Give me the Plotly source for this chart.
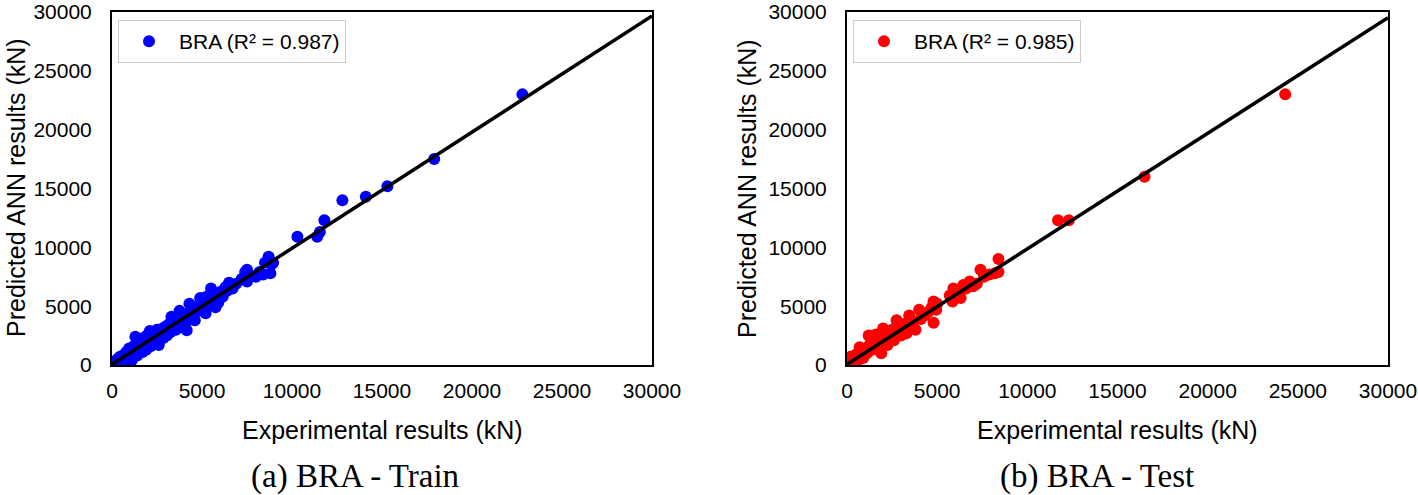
import plotly.graph_objects as go

# Train set (experimental, predicted) in kN
train_exp = [150, 250, 300, 400, 450, 500, 600, 650, 700, 800, 850, 900, 950, 1000, 1050, 1100,
             1150, 1200, 1250, 1300, 1350, 1400, 1450, 1500, 1550, 1600, 1650, 1700, 1750, 1800,
             1850, 1900, 1950, 2000, 2050, 2100, 2150, 2200, 2250, 2300, 2350, 2400, 2500, 2550,
             2600, 2650, 2700, 2800, 2850, 2900,
             3000, 3050, 3100, 3200, 3250, 3300, 3400, 3500, 3550, 3650, 3750, 3800, 3900, 4000,
             4100, 4150, 4250, 4300, 4350, 4450, 4600, 4650, 4800, 4900, 5000, 5100, 5200, 5250,
             5400, 5500, 5600, 5750, 5800, 5900, 6000, 6150, 6300, 6400,
             6500, 6700, 6900, 7200, 7400, 7500, 7500, 7700, 8000, 8200, 8400, 8500, 8700, 8800,
             8900, 8950,
             10300, 11400, 11550, 11800, 12800, 14100, 15300, 17900, 22800]
train_pred = [300, 100, 500, 250, 700, 400, 800, 300, 600, 1100, 500, 900, 1400, 700, 1200, 400,
              900, 1600, 1000, 2400, 1300, 800, 1700, 1200, 2100, 1500, 1900, 1100, 2300, 1600,
              2000, 1300, 2500, 1800, 2200, 2900, 1600, 2400, 2000, 2700, 1900, 2500, 3000, 2200,
              1700, 2700, 2400, 3100, 2300, 2800,
              3300, 2500, 2900, 3500, 2800, 4100, 3200, 3800, 3000, 3500, 4600, 3300, 4000, 3600,
              4300, 2950, 3800, 5200, 4600, 4100, 3800, 4500, 5000, 5700, 4700, 5300, 4400, 5800,
              5100, 6500, 5500, 4900, 5900, 5300, 6200, 5800, 6600, 6300,
              7000, 6500, 6900, 7300, 7900, 8100, 7100, 7600, 7500, 7900, 7700, 8700, 9200, 7800,
              8600, 8700,
              10900, 10900, 11300, 12300, 14000, 14300, 15200, 17500, 23000]

# Test set (experimental, predicted) in kN
test_exp = [100, 200, 300, 400, 500, 600, 700, 750, 850, 900, 1000, 1100, 1200, 1250, 1350, 1400,
            1500, 1600, 1700, 1800, 1900, 2000, 2050, 2150, 2250, 2400, 2500, 2600, 2750, 2800,
            2900, 3000, 3200, 3300, 3450, 3500, 3700, 3800, 4000, 4100, 4300, 4500, 4700, 4800,
            4800, 4950, 5000, 5700, 5850, 5900, 6000, 6100, 6300, 6450, 6600, 6800, 7000, 7200,
            7400, 7600, 7900, 8200, 8400, 8400,
            11700, 12300, 16500, 24300]
test_pred = [300, 700, 200, 500, 900, 400, 1500, 800, 1200, 600, 1400, 1000, 2500, 1700, 2200, 1300,
             1900, 2600, 1500, 2300, 1000, 3100, 2000, 2700, 1700, 2400, 3000, 2100, 3800, 2700,
             3200, 2500, 3500, 2700, 4200, 3300, 3700, 3000, 4700, 3900, 4200, 4500, 4900, 5400,
             3600, 4700, 5200, 5900, 5400, 6500, 5700, 6000, 5700, 6800, 6500, 7100, 6700, 6900,
             8100, 7500, 7700, 7800, 9000, 7900,
             12300, 12300, 16000, 23000]

# regression lines (slope, intercept)
train_fit = (0.987, 50)
test_fit = (0.982, 50)
line_x = [0, 30000]

ticks = [0, 5000, 10000, 15000, 20000, 25000, 30000]

W, H = 1418, 495


def px(x):
    return x / W


def py(y):
    return 1 - y / H


font = "Liberation Sans, Arial, sans-serif"
serif = "Liberation Serif, Times New Roman, serif"

fig = go.Figure()

fig.add_trace(go.Scatter(x=train_exp, y=train_pred, mode="markers", name="BRA (R² = 0.987)",
                         marker=dict(color="#0000ff", size=12), xaxis="x", yaxis="y", legend="legend"))
fig.add_trace(go.Scatter(x=line_x, y=[train_fit[0] * v + train_fit[1] for v in line_x], mode="lines",
                         line=dict(color="black", width=3.5), showlegend=False, xaxis="x", yaxis="y"))

fig.add_trace(go.Scatter(x=test_exp, y=test_pred, mode="markers", name="BRA (R² = 0.985)",
                         marker=dict(color="#ff0000", size=12), xaxis="x2", yaxis="y2", legend="legend2"))
fig.add_trace(go.Scatter(x=line_x, y=[test_fit[0] * v + test_fit[1] for v in line_x], mode="lines",
                         line=dict(color="black", width=3.5), showlegend=False, xaxis="x2", yaxis="y2"))

ax = dict(range=[0, 30000], tickvals=ticks, ticktext=[str(t) for t in ticks],
          showgrid=False, zeroline=False, showline=True, automargin=False,
          mirror=True, linecolor="black", linewidth=2, ticks="", ticklabeloverflow="allow",
          tickfont=dict(family=font, size=21, color="black"))

ydom = [py(365), py(12)]
leg = dict(xanchor="left", yanchor="top", bgcolor="white",
           bordercolor="#cccccc", borderwidth=1, itemwidth=50,
           font=dict(family=font, size=21, color="black"))
fig.update_layout(
    width=W, height=H, margin=dict(l=0, r=0, t=0, b=0, autoexpand=False),
    plot_bgcolor="white", paper_bgcolor="white",
    xaxis=dict(ax, domain=[px(112), px(652)], anchor="y", ticklabelstandoff=6),
    yaxis=dict(ax, domain=ydom, anchor="x", ticklabelstandoff=14),
    xaxis2=dict(ax, domain=[px(847), px(1388)], anchor="y2", ticklabelstandoff=6),
    yaxis2=dict(ax, domain=ydom, anchor="x2", ticklabelstandoff=14),
    legend=dict(leg, x=px(118), y=py(20)),
    legend2=dict(leg, x=px(853), y=py(20)),
)

annots = [
    dict(x=px(382), y=py(430), text="Experimental results (kN)", textangle=0,
         font=dict(family=font, size=25, color="black")),
    dict(x=px(1117), y=py(430), text="Experimental results (kN)", textangle=0,
         font=dict(family=font, size=25, color="black")),
    dict(x=px(16), y=py(188), text="Predicted ANN results (kN)", textangle=-90,
         font=dict(family=font, size=25, color="black")),
    dict(x=px(747), y=py(188), text="Predicted ANN results (kN)", textangle=-90,
         font=dict(family=font, size=25, color="black")),
    dict(x=px(355), y=py(476), text="(a) BRA - Train", textangle=0,
         font=dict(family=serif, size=33, color="black")),
    dict(x=px(1097), y=py(476), text="(b) BRA - Test", textangle=0,
         font=dict(family=serif, size=33, color="black")),
]
for a in annots:
    fig.add_annotation(xref="paper", yref="paper", showarrow=False, xanchor="center",
                       yanchor="middle", **a)

# drop the default page margin so the figure fills the window
fig.write_html("out.html", config={"displayModeBar": False},
               post_script="document.body.style.margin='0';")
